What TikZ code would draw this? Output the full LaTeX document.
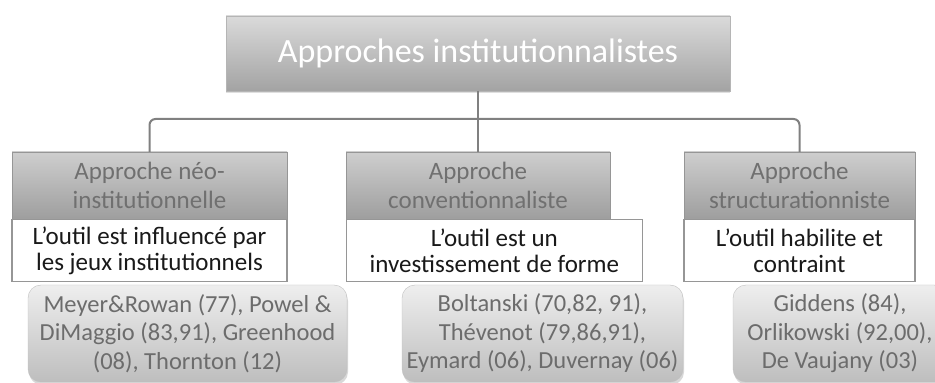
\documentclass[tikz,border=0pt]{standalone}
\usepackage{fontspec}
\setmainfont{Carlito}
\usetikzlibrary{positioning, shadows}

\begin{document}
\begin{tikzpicture}[x=1pt, y=1pt, node distance=0pt]
    % Define colors for the different boxes
    \definecolor{titletop}{RGB}{218,218,218}
    \definecolor{titlebot}{RGB}{163,163,163}
    \definecolor{headtop}{RGB}{206,206,206}
    \definecolor{headbot}{RGB}{158,158,158}
    \definecolor{headtext}{RGB}{112,112,112}
    \definecolor{boxline}{RGB}{150,150,150}
    \definecolor{reftop}{RGB}{238,238,238}
    \definecolor{refbot}{RGB}{190,190,190}
    \definecolor{reftext}{RGB}{108,108,108}
    \definecolor{linkgray}{RGB}{128,128,128}
    % Define block styles
    \tikzset{
        titlebox/.style={draw=boxline!70, top color=titletop, bottom color=titlebot, text=white, align=center, minimum height=75pt, font=\fontsize{34}{40}\selectfont, drop shadow={shadow xshift=0pt, shadow yshift=-2pt, opacity=0.25}},
        headbox/.style={draw=boxline, top color=headtop, bottom color=headbot, text=headtext, align=center, minimum height=67pt, font=\fontsize{25}{29}\selectfont, drop shadow={shadow xshift=0pt, shadow yshift=-2pt, opacity=0.2}},
        claimbox/.style={draw=boxline, line width=1.2pt, fill=white, text=black!90, align=center, minimum height=62pt, font=\fontsize{25}{26}\selectfont},
        refbox/.style={draw=boxline!60, rounded corners=13pt, top color=reftop, bottom color=refbot, text=reftext, align=center, minimum height=97pt, font=\fontsize{24.5}{28.5}\selectfont, drop shadow={shadow xshift=1pt, shadow yshift=-3pt, opacity=0.3}},
        link/.style={draw=linkgray, line width=2pt, rounded corners=6pt},
    }
    \fill[white] (0,0) rectangle (935,383);
    \useasboundingbox (0,0) rectangle (935,383);

    % Nodes
    \node[titlebox, minimum width=504pt] (title) at (478,329.5) {Approches institutionnalistes};

    \node[headbox, minimum width=275pt] (neo) at (149.5,197.5) {Approche néo-\\institutionnelle};
    \node[headbox, minimum width=264pt] (conv) at (478,197.5) {Approche\\conventionnaliste};
    \node[headbox, minimum width=231pt] (struct) at (799.5,197.5) {Approche\\structurationniste};

    \node[claimbox, minimum width=275pt, below=of neo] (neoclaim) {L’outil est influencé par\\les jeux institutionnels};
    \node[claimbox, minimum width=296pt, below right=0pt and 0pt of conv.south west] (convclaim) {L’outil est un\\investissement de forme};
    \node[claimbox, minimum width=231pt, below=of struct] (structclaim) {L’outil habilite et\\contraint};

    \node[refbox, minimum width=319pt] (neoref) at (187.5,49.5) {Meyer\&Rowan (77), Powel \&\\DiMaggio (83,91), Greenhood\\(08), Thornton (12)};
    \node[refbox, minimum width=281pt] (convref) at (542.5,49.5) {Boltanski (70,82, 91),\\Thévenot (79,86,91),\\Eymard (06), Duvernay (06)};
    \node[refbox, minimum width=214pt] (structref) at (840,49.5) {Giddens (84),\\Orlikowski (92,00),\\De Vaujany (03)};

    % Connectors
    \coordinate (bus) at (478,264);
    \draw[link] (title.south) -- (bus);
    \draw[link] (bus) -| (neo.north);
    \draw[link] (bus) -- (conv.north);
    \draw[link] (bus) -| (struct.north);
\end{tikzpicture}
\end{document}
